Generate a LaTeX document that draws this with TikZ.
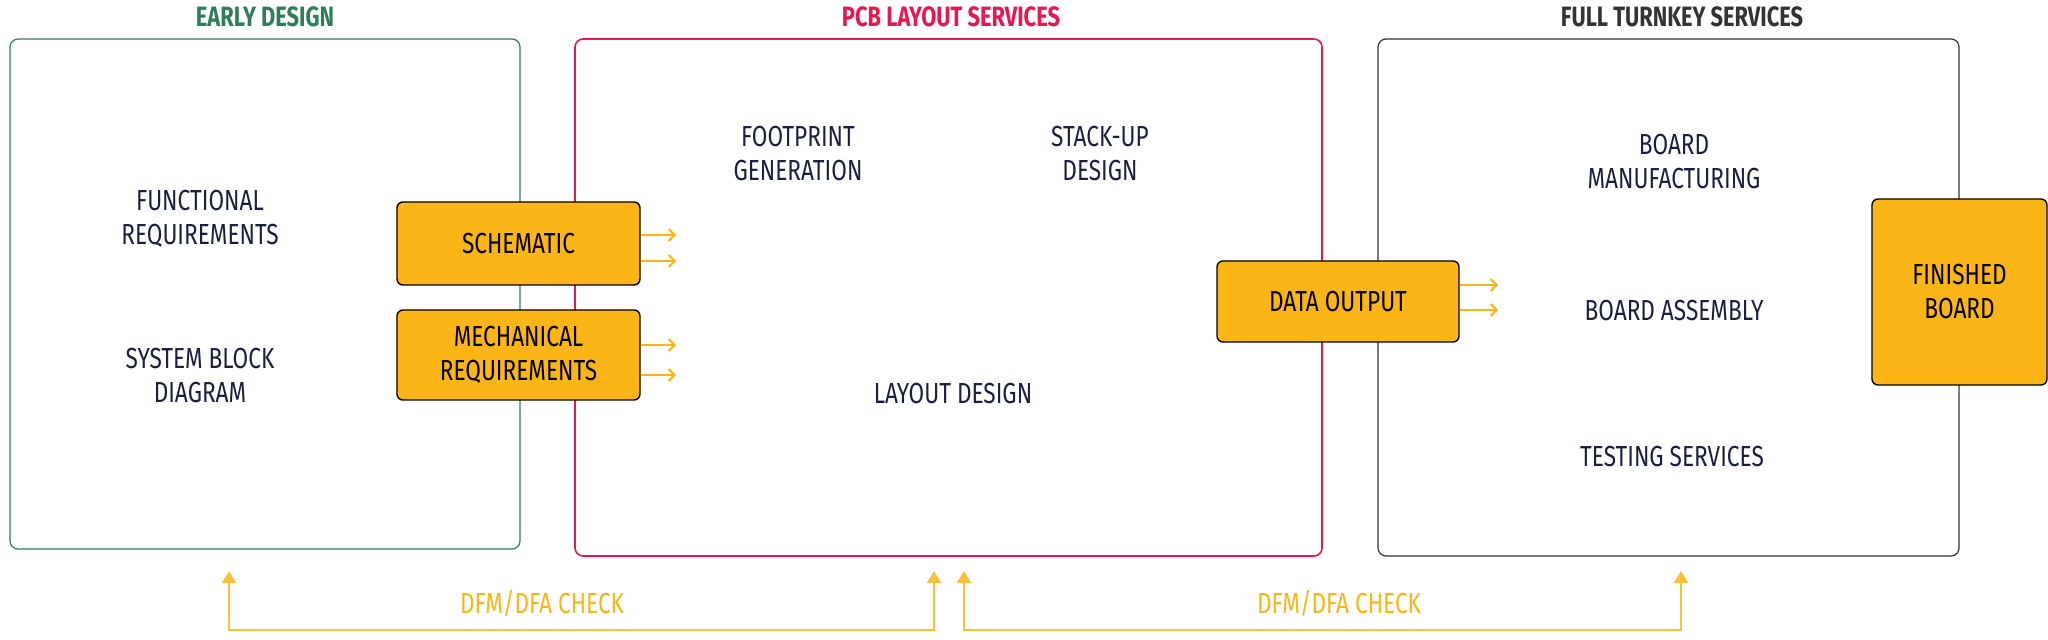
\documentclass[tikz,border=0pt]{standalone}
\usepackage{fontspec}
\setmainfont{Fira Sans}[FakeStretch=0.78]
\usetikzlibrary{arrows.meta}
\definecolor{egreen}{HTML}{2E7D5B}
\definecolor{pred}{HTML}{E5194F}
\definecolor{gold}{HTML}{FBB516}
\definecolor{navy}{HTML}{1A1F3D}
\definecolor{fgrey}{HTML}{333333}
\tikzset{
  title/.style={font=\fontsize{14}{16}\selectfont\bfseries},
  item/.style={font=\fontsize{14.5}{17}\selectfont, text=navy, align=center},
  gbox/.style={draw=black, line width=0.7pt, fill=gold, rounded corners=3pt, font=\fontsize{14.5}{17}\selectfont, align=center, text=black},
  flow/.style={draw=gold, line width=1pt, -{Straight Barb[length=3pt,width=6pt]}},
  fb/.style={draw=gold!85, line width=1.2pt, -{Triangle[length=6pt,width=7pt]}},
  fbl/.style={font=\fontsize{14.5}{17}\selectfont, text=gold}
}
\begin{document}
\begin{tikzpicture}[x=0.5pt,y=-0.5pt]
\useasboundingbox (0,0) rectangle (2048,640);
% section frames
\draw[egreen, line width=0.6pt, rounded corners=4pt] (10,39) rectangle (520,549);
\draw[pred, line width=0.8pt, rounded corners=4pt] (575,39) rectangle (1322,556);
\draw[fgrey, line width=0.6pt, rounded corners=4pt] (1378,39) rectangle (1959,556);
\node[title, text=egreen] (t1) at (265,17) {EARLY DESIGN};
\node[title, text=pred] (t2) at (951,17) {PCB LAYOUT SERVICES};
\node[title, text=fgrey] (t3) at (1682,17) {FULL TURNKEY SERVICES};
% items
\node[item] (fr) at (200,219) {FUNCTIONAL\\REQUIREMENTS};
\node[item] (sbd) at (200,376) {SYSTEM BLOCK\\DIAGRAM};
\node[item] (fg) at (798,154) {FOOTPRINT\\GENERATION};
\node[item] (sud) at (1100,154) {STACK-UP\\DESIGN};
\node[item] (ld) at (953,394) {LAYOUT DESIGN};
\node[item] (bm) at (1674,162) {BOARD\\MANUFACTURING};
\node[item] (ba) at (1674,311) {BOARD ASSEMBLY};
\node[item] (ts) at (1672,457) {TESTING SERVICES};
% gold boxes
\node[gbox, minimum width=243pt*0.5, minimum height=83pt*0.5] (sch) at (518.5,243.5) {SCHEMATIC};
\node[gbox, minimum width=243pt*0.5, minimum height=90pt*0.5] (mech) at (518.5,355) {MECHANICAL\\REQUIREMENTS};
\node[gbox, minimum width=242pt*0.5, minimum height=81pt*0.5] (dout) at (1338,301.5) {DATA OUTPUT};
\node[gbox, minimum width=175pt*0.5, minimum height=186pt*0.5] (fin) at (1959.5,292) {FINISHED\\BOARD};
% flow arrows
\coordinate (s1) at (676,235); \coordinate (s2) at (676,261);
\coordinate (m1) at (676,345); \coordinate (m2) at (676,375);
\coordinate (d1) at (1498,285); \coordinate (d2) at (1498,310);
\draw[flow] (sch.east |- s1) -- (s1);
\draw[flow] (sch.east |- s2) -- (s2);
\draw[flow] (mech.east |- m1) -- (m1);
\draw[flow] (mech.east |- m2) -- (m2);
\draw[flow] (dout.east |- d1) -- (d1);
\draw[flow] (dout.east |- d2) -- (d2);
% feedback loops
\coordinate (a1) at (229,571); \coordinate (a2) at (934,571);
\coordinate (b1) at (964,571); \coordinate (b2) at (1681,571);
\draw[fb, {Triangle[length=6pt,width=7pt]}-{Triangle[length=6pt,width=7pt]}] (a1) -- (229,630) -- (934,630) -- (a2);
\draw[fb, {Triangle[length=6pt,width=7pt]}-{Triangle[length=6pt,width=7pt]}] (b1) -- (964,630) -- (1681,630) -- (b2);
\node[fbl] (l1) at (542,603) {DFM/DFA CHECK};
\node[fbl] (l2) at (1339,603) {DFM/DFA CHECK};
\end{tikzpicture}
\end{document}
